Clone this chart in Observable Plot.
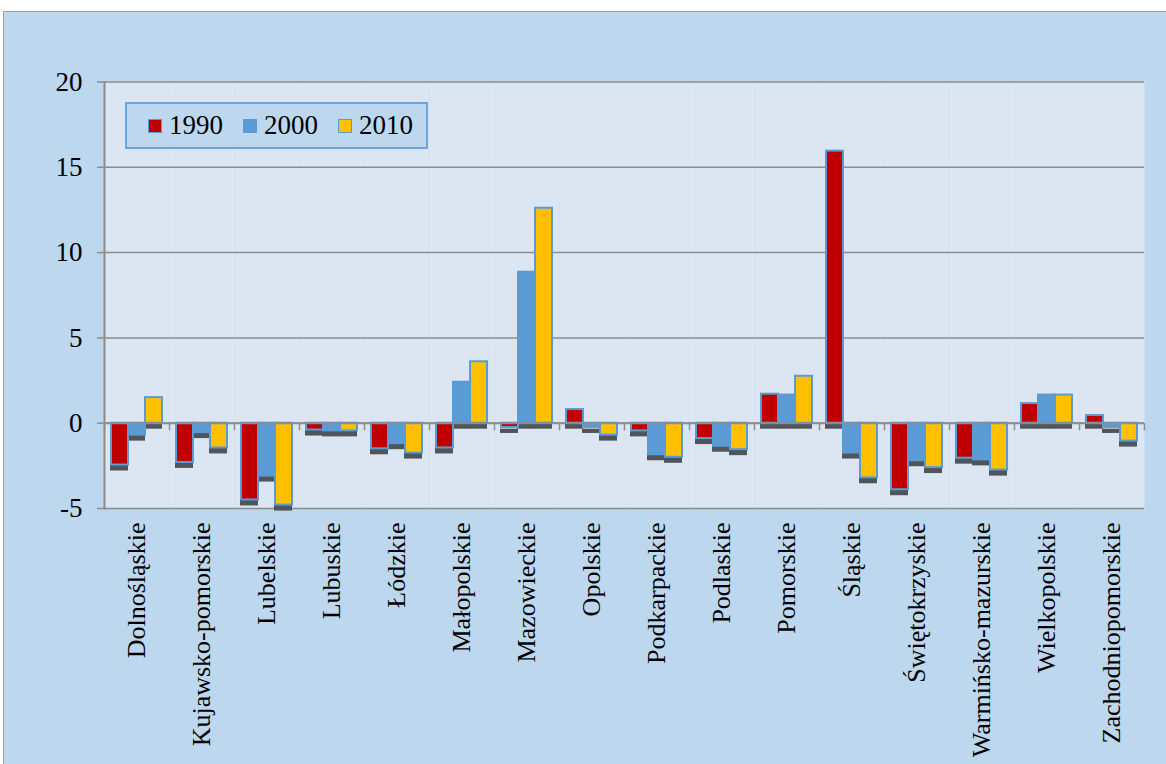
<!DOCTYPE html>
<html>
<head>
<meta charset="utf-8">
<script src="https://cdn.jsdelivr.net/npm/d3@7"></script>
<script src="https://cdn.jsdelivr.net/npm/@observablehq/plot@0.6"></script>
<style>
  body { margin: 0; background: #fff; }
  #wrap { position: relative; width: 1166px; height: 764px; overflow: hidden; background: #fff; }
  #chart { position: absolute; left: 3px; top: 11px; width: 1163px; height: 753px; background: #BDD7EE;
           border-top: 1px solid #A0A0A0; border-left: 1px solid #A0A0A0; }
  #chart svg { display: block; }
  #legend { position: absolute; left: 125px; top: 102px; width: 303px; height: 47px; background: #BDD7EE;
            border: 2px solid #6EA3DA; display: flex; align-items: center; padding-left: 21px; box-sizing: border-box;
            font-family: "Liberation Serif", "Times New Roman", serif; font-size: 27px; color: #000; }
  #legend .item { display: flex; align-items: center; margin-right: 20px; }
  #legend .sw { width: 12px; height: 12px; border: 1px solid #5B9BD5; margin-right: 7px; }
</style>
</head>
<body>
<div id="wrap">
  <div id="chart"></div>
  <div id="legend"></div>
</div>
<script>
const regions = ["Dolnośląskie", "Kujawsko-pomorskie", "Lubelskie", "Lubuskie", "Łódzkie", "Małopolskie",
  "Mazowieckie", "Opolskie", "Podkarpackie", "Podlaskie", "Pomorskie", "Śląskie", "Świętokrzyskie",
  "Warmińsko-mazurskie", "Wielkopolskie", "Zachodniopomorskie"];
const years = ["1990", "2000", "2010"];
const v1990 = [-2.45, -2.3, -4.5, -0.4, -1.5, -1.45, -0.25, 0.8, -0.45, -0.9, 1.7, 15.95, -3.9, -2.05, 1.15, 0.45];
const v2000 = [-0.7, -0.55, -3.1, -0.45, -1.2, 2.4, 8.85, -0.25, -1.85, -1.35, 1.65, -1.75, -2.2, -2.15, 1.65, -0.25];
const v2010 = [1.5, -1.45, -4.8, -0.45, -1.75, 3.6, 12.6, -0.7, -2.0, -1.55, 2.75, -3.2, -2.6, -2.75, 1.65, -1.05];
const yTicks = [-5, 0, 5, 10, 15, 20];
const colors = ["#C00000", "#5B9BD5", "#FFC000"];

const series = [v1990, v2000, v2010];
const data = regions.flatMap((r, i) => years.map((y, j) => ({region: r, year: y, value: series[j][i]})));

const tickSymbol = {
  draw(context, size) {
    const h = Math.sqrt(size);
    context.moveTo(0, 0);
    context.lineTo(0, h);
  }
};

const grey = "#8C8C8C";
const serif = "'Liberation Serif', 'Times New Roman', serif";

const plot = Plot.plot({
  width: 1162,
  height: 752,
  marginLeft: 100,
  marginRight: 22,
  marginTop: 69.5,
  marginBottom: 256,
  style: {background: "transparent", fontFamily: serif, fontSize: "26px", color: "#000", overflow: "visible"},
  fx: {domain: regions, padding: 0, label: null},
  x: {domain: years, paddingInner: 0, paddingOuter: 0.375, axis: null},
  y: {domain: [-5, 20], label: null},
  color: {domain: years, range: colors},
  marks: [
    Plot.frame({fill: "#DCE6F2"}),
    Plot.ruleY(yTicks, {stroke: grey, strokeWidth: 1.5}),
    Plot.barY(data, {fx: "region", x: "year", y: "value", fill: "#4F555B", dy: 6, insetLeft: -1}),
    Plot.barY(data, {fx: "region", x: "year", y: "value", fill: "year", stroke: "#5B9BD5", strokeWidth: 2}),
    Plot.ruleY([0], {stroke: grey, strokeWidth: 2}),
    Plot.dot(regions, {fx: d => d, y: () => 0, frameAnchor: "left", symbol: tickSymbol, r: 4, fill: "none", stroke: grey, strokeWidth: 1.5}),
    Plot.dot(regions.slice(-1), {fx: d => d, y: () => 0, frameAnchor: "right", symbol: tickSymbol, r: 4, fill: "none", stroke: grey, strokeWidth: 1.5}),
    Plot.frame({anchor: "left", facet: "super", stroke: grey, strokeWidth: 2}),
    Plot.axisY({ticks: yTicks, tickSize: 7, tickPadding: 15, tickFormat: d => String(d), label: null,
                stroke: grey, strokeWidth: 1.5, strokeOpacity: 1, fontFamily: serif, fontSize: 27, fontVariant: "normal"}),
    Plot.axisFx({anchor: "bottom", tickSize: 0, tickRotate: -90, tickPadding: 14, label: null, fontFamily: serif, fontSize: 26})
  ]
});
document.getElementById("chart").appendChild(plot);

const legend = document.getElementById("legend");
years.forEach((y, j) => {
  const item = document.createElement("div");
  item.className = "item";
  const sw = document.createElement("div");
  sw.className = "sw";
  sw.style.background = colors[j];
  const t = document.createElement("span");
  t.textContent = y;
  item.appendChild(sw);
  item.appendChild(t);
  legend.appendChild(item);
});
</script>
</body>
</html>
